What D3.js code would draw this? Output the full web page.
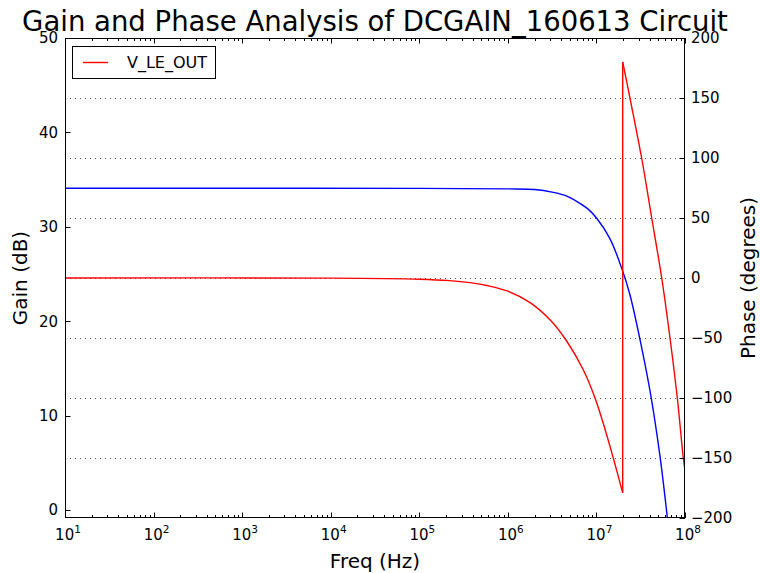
<!DOCTYPE html>
<html>
<head>
<meta charset="utf-8">
<script src="https://cdn.jsdelivr.net/npm/d3@7"></script>
<style>
  body { margin: 0; background: #fff; }
  text { font-family: "DejaVu Sans", sans-serif; fill: #000; }
</style>
</head>
<body>
<svg id="chart" width="760" height="573"></svg>
<script>
// gain curve (left axis, dB)
const gainFreq = [1e1, 1e3, 1e5, 1e6, 2e6, 3.26e6, 4.5e6, 5.98e6, 8e6, 1.007e7, 1.42e7, 1.93e7, 2.39e7, 3.24e7, 4.1e7, 5.22e7, 6.3e7, 6.45e7];
const gainDb   = [34.08, 34.08, 34.07, 34.02, 33.95, 33.65, 33.3, 32.7, 31.9, 30.9, 28.75, 25.6, 22.8, 17.2, 12.2, 5.7, -0.7, -1.6];

// phase curve (right axis, degrees), split at the wrap near 2e7 Hz
const phaseFreqA = [1e1, 1e4, 1e5, 2.2e5, 3.74e5, 6e5, 1e6, 1.78e6, 2.99e6, 4.61e6, 7.1e6, 9.64e6, 1.25e7, 1.55e7, 1.98e7];
const phaseDegA  = [0, -0.1, -1.0, -2.2, -3.9, -6.5, -11, -20.5, -34.8, -52.5, -76.5, -100, -126, -150, -179];
const phaseFreqB = [1.98e7, 2.39e7, 3.24e7, 4.21e7, 5.46e7, 6.77e7, 8.19e7, 9.57e7, 1e8];
const phaseDegB  = [180, 150, 100, 50, 0, -50, -100, -150, -160];

const gainTicks = [0, 10, 20, 30, 40, 50];
const phaseTicks = [-200, -150, -100, -50, 0, 50, 100, 150, 200];
const phaseGrid = [-150, -100, -50, 0, 50, 100, 150];
const decades = [1, 2, 3, 4, 5, 6, 7, 8];
const seriesName = "V_LE_OUT";

const mLeft = 65, mRight = 685, mTop = 38, mBottom = 518;
const svg = d3.select('#chart');

const x = d3.scaleLog().domain([1e1, 1e8]).range([mLeft, mRight]);
const yGain = d3.scaleLinear().domain([-0.85, 50]).range([mBottom, mTop]);
const yPhase = d3.scaleLinear().domain([-200, 200]).range([mBottom, mTop]);

svg.append('defs').append('clipPath').attr('id', 'plot-clip')
  .append('rect')
  .attr('x', mLeft).attr('y', mTop)
  .attr('width', mRight - mLeft).attr('height', mBottom - mTop);

// dotted grid from phase axis
svg.append('g').selectAll('line')
  .data(phaseGrid)
  .enter().append('line')
  .attr('x1', mLeft).attr('x2', mRight)
  .attr('y1', d => Math.round(yPhase(d)) + 0.5).attr('y2', d => Math.round(yPhase(d)) + 0.5)
  .attr('stroke', '#555')
  .attr('stroke-width', 1)
  .attr('stroke-dasharray', '1,4');

// curves
const plot = svg.append('g').attr('clip-path', 'url(#plot-clip)');
const smooth = d3.curveCatmullRom.alpha(0.5);

const gainLine = d3.line()
  .x((d, i) => x(gainFreq[i]))
  .y(d => yGain(d))
  .curve(smooth);

plot.append('path')
  .attr('d', gainLine(gainDb))
  .attr('fill', 'none')
  .attr('stroke', '#0000ff')
  .attr('stroke-width', 1.4);

const phaseLineA = d3.line()
  .x((d, i) => x(phaseFreqA[i]))
  .y(d => yPhase(d))
  .curve(smooth);
const phaseLineB = d3.line()
  .x((d, i) => x(phaseFreqB[i]))
  .y(d => yPhase(d))
  .curve(smooth);

[phaseLineA(phaseDegA), phaseLineB(phaseDegB)].forEach(p => {
  plot.append('path')
    .attr('d', p)
    .attr('fill', 'none')
    .attr('stroke', '#ff0000')
    .attr('stroke-width', 1.4);
});
// vertical wrap segment
plot.append('line')
  .attr('x1', x(phaseFreqA[phaseFreqA.length - 1])).attr('x2', x(phaseFreqB[0]))
  .attr('y1', yPhase(phaseDegA[phaseDegA.length - 1])).attr('y2', yPhase(phaseDegB[0]))
  .attr('stroke', '#ff0000')
  .attr('stroke-width', 1.4);

// x ticks (major + minor) on bottom and top, pointing inward
const minors = [];
decades.slice(0, -1).forEach(e => {
  for (let k = 2; k <= 9; k++) minors.push(k * Math.pow(10, e));
});
const majors = decades.map(e => Math.pow(10, e));

const ticks = svg.append('g').attr('stroke', '#000').attr('stroke-width', 1);
[[majors, 5.5], [minors, 3]].forEach(([vals, len]) => {
  vals.forEach(v => {
    const px = Math.round(x(v)) + 0.5;
    ticks.append('line').attr('x1', px).attr('x2', px).attr('y1', mBottom).attr('y2', mBottom - len);
    ticks.append('line').attr('x1', px).attr('x2', px).attr('y1', mTop).attr('y2', mTop + len);
  });
});
gainTicks.forEach(v => {
  const py = Math.round(yGain(v)) + 0.5;
  ticks.append('line').attr('x1', mLeft).attr('x2', mLeft + 5.5).attr('y1', py).attr('y2', py);
});
phaseTicks.forEach(v => {
  const py = Math.round(yPhase(v)) + 0.5;
  ticks.append('line').attr('x1', mRight).attr('x2', mRight - 5.5).attr('y1', py).attr('y2', py);
});

// frame
svg.append('rect')
  .attr('x', mLeft + 0.5).attr('y', mTop + 0.5)
  .attr('width', mRight - mLeft - 1).attr('height', mBottom - mTop - 1)
  .attr('fill', 'none')
  .attr('stroke', '#000')
  .attr('stroke-width', 1);

// tick labels
const xl = svg.append('g').attr('font-size', 15).attr('text-anchor', 'middle');
decades.forEach(e => {
  const t = xl.append('text').attr('x', x(Math.pow(10, e)) + 3).attr('y', 540);
  t.append('tspan').text('10');
  t.append('tspan').attr('font-size', 10.5).attr('dy', -7).text(e);
});

svg.append('g').attr('font-size', 15).attr('text-anchor', 'end')
  .selectAll('text').data(gainTicks).enter().append('text')
  .attr('x', 58).attr('y', d => yGain(d)).attr('dy', '0.36em')
  .text(d => d);

svg.append('g').attr('font-size', 15).attr('text-anchor', 'start')
  .selectAll('text').data(phaseTicks).enter().append('text')
  .attr('x', 691).attr('y', d => yPhase(d)).attr('dy', '0.36em')
  .text(d => d < 0 ? '\u2212' + Math.abs(d) : d);

// axis labels and title
svg.append('text')
  .attr('x', (mLeft + mRight) / 2).attr('y', 568)
  .attr('text-anchor', 'middle').attr('font-size', 20)
  .text('Freq (Hz)');

svg.append('text')
  .attr('transform', `translate(27,${(mTop + mBottom) / 2}) rotate(-90)`)
  .attr('text-anchor', 'middle').attr('font-size', 20)
  .text('Gain (dB)');

svg.append('text')
  .attr('transform', `translate(755,${(mTop + mBottom) / 2}) rotate(-90)`)
  .attr('text-anchor', 'middle').attr('font-size', 20)
  .text('Phase (degrees)');

svg.append('text')
  .attr('x', (mLeft + mRight) / 2).attr('y', 31)
  .attr('text-anchor', 'middle').attr('font-size', 27.5)
  .text('Gain and Phase Analysis of DCGAIN_160613 Circuit');

// legend
const legend = svg.append('g');
legend.append('rect')
  .attr('x', 72.5).attr('y', 46.5).attr('width', 143).attr('height', 32)
  .attr('fill', '#fff').attr('stroke', '#000').attr('stroke-width', 1);
legend.append('line')
  .attr('x1', 83).attr('x2', 108).attr('y1', 62.5).attr('y2', 62.5)
  .attr('stroke', '#ff0000').attr('stroke-width', 1.4);
legend.append('text')
  .attr('x', 127).attr('y', 68).attr('font-size', 16)
  .text(seriesName);
</script>
</body>
</html>
